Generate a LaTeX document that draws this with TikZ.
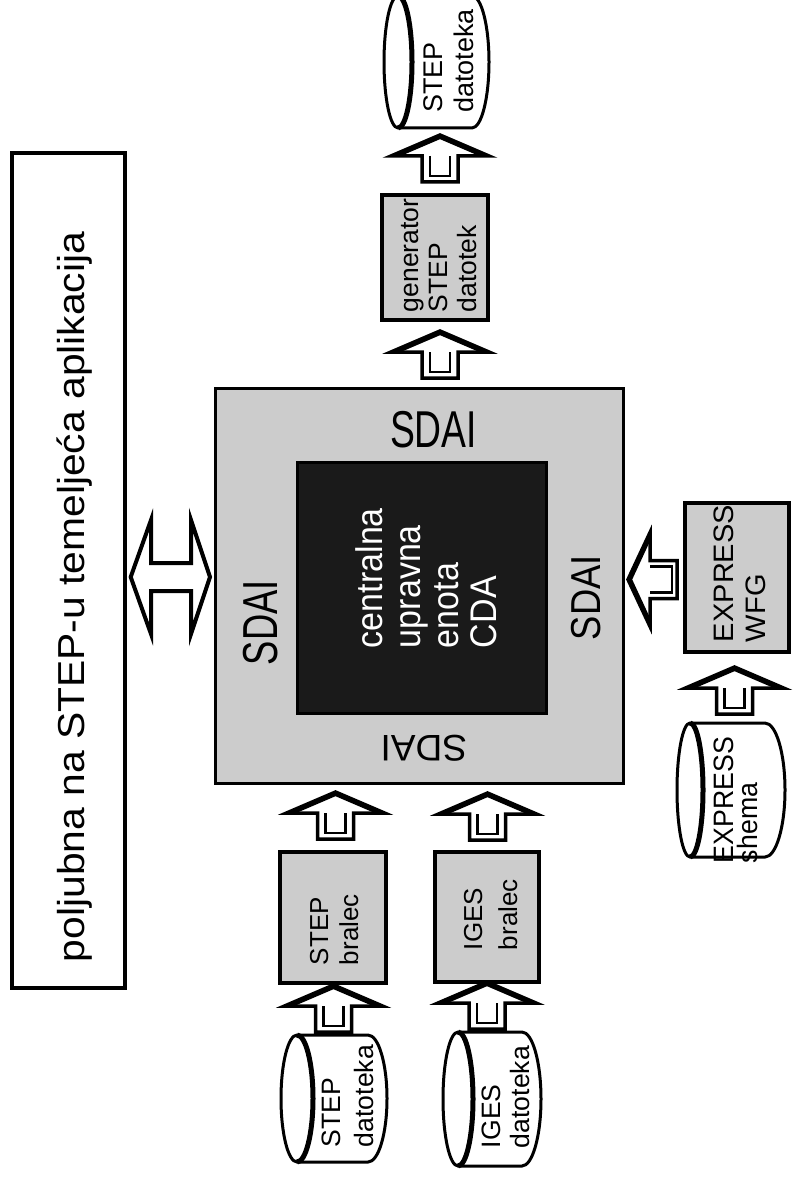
\documentclass[tikz,border=0pt]{standalone}
\usepackage{fontspec}
\setmainfont{Liberation Sans}
\usepackage{graphicx}
\definecolor{boxgray}{RGB}{204,204,204}
\definecolor{coreblack}{RGB}{26,26,26}
% #1 font size, #2 vertical stretch, #3 baselineskip (before stretch), #4 lines
\newcommand{\lbl}[4]{\fontsize{#1pt}{#1pt}\selectfont\scalebox{1}[#2]{\vtop{\baselineskip=#3pt\lineskiplimit=-200pt\lineskip=0pt #4}}}
\newcommand{\dbcyl}[6]{%
  \filldraw[cylline] (#1,#5-#6) -- (#3,#5-#6) arc[start angle=-90,end angle=90,x radius=#4,y radius=#6]
     -- (#1,#5+#6) arc[start angle=90,end angle=270,x radius=#2,y radius=#6] -- cycle;
  \draw[cylfront] (#1,#5-#6) arc[start angle=-90,end angle=90,x radius=#2,y radius=#6];}
\newcommand{\blkup}[2]{%
  \begin{scope}[shift={(#1,#2)}]
    \filldraw[blkarrow] (0,0) -- (49,21) -- (18,21) -- (18,47) -- (-18,47) -- (-18,21) -- (-49,21) -- cycle;
    \draw[blkhead] (-42,20) -- (0,2) -- (42,20);
    \draw[blkinner] (-10,21) -- (-10,41) -- (10,41) -- (10,21);
  \end{scope}}
\tikzset{
  box/.style={draw, line width=3.5pt, inner sep=0pt, outer sep=0pt},
  txt/.style={inner sep=0pt, outer sep=0pt},
  cylline/.style={draw, fill=white, line width=3pt},
  cylfront/.style={line width=5pt},
  blkarrow/.style={draw, fill=white, line width=3.5pt, line join=miter},
  blkhead/.style={line width=4pt, line join=miter},
  blkinner/.style={line width=2.2pt},
}
\begin{document}
\begin{tikzpicture}[x=1pt,y=-1pt]
\useasboundingbox (0,0) rectangle (792,1177);
\fill[white] (0,0) rectangle (792,1177);

% boxes
\node[box, minimum width=113pt, minimum height=835pt] (app) at (68.5,570.5) {};
\node[box, fill=boxgray, line width=3pt, minimum width=408pt, minimum height=395pt] (sdai) at (419,585.5) {};
\node[box, fill=coreblack, line width=3pt, minimum width=249pt, minimum height=251pt] (cda) at (421.5,587.5) {};
\node[box, fill=boxgray, minimum width=106pt, minimum height=125pt] (gen) at (435,257.5) {};
\node[box, fill=boxgray, minimum width=106pt, minimum height=131pt] (stepb) at (333,917.5) {};
\node[box, fill=boxgray, minimum width=104pt, minimum height=130pt] (igesb) at (487,917) {};
\node[box, fill=boxgray, minimum width=104pt, minimum height=149pt] (wfg) at (737,577.5) {};

% cylinders
\dbcyl{398}{14}{472}{17}{62}{66}
\dbcyl{297}{16}{368}{19}{1098.5}{63.5}
\dbcyl{458}{15}{522}{19}{1099}{67}
\dbcyl{690}{13}{765}{20}{790}{67}

% block arrows
\blkup{440}{135}
\blkup{440}{331}
\blkup{335.5}{792}
\blkup{487.5}{793}
\blkup{333.5}{985}
\blkup{487}{982}
\blkup{734.5}{667}
\begin{scope}[shift={(628,579.5)}]
  \filldraw[blkarrow] (0,0) -- (22,-47) -- (22,-19) -- (49,-19) -- (49,19) -- (22,19) -- (22,47) -- cycle;
  \draw[blkhead] (21,-41) -- (2,0) -- (21,41);
  \draw[blkinner] (22,-13) -- (44,-13) -- (44,13) -- (22,13);
\end{scope}
\begin{scope}[shift={(130.7,577)}]
  \filldraw[blkarrow, line width=4pt] (0,0) -- (20.3,-57) -- (20.3,-14) -- (60.3,-14) -- (60.3,-57) -- (79.3,0)
     -- (60.3,57) -- (60.3,14) -- (20.3,14) -- (20.3,57) -- cycle;
\end{scope}

% labels
\node[txt, rotate=90, anchor=base west] (tapp) at (84,962) {\lbl{40.8}{0.92}{40}{\hbox{poljubna na STEP-u temeljeća aplikacija}}};
\node[txt, anchor=base west] (tsdait) at (390,447) {\lbl{37.3}{1.39}{40}{\hbox{SDAI}}};
\node[txt, rotate=90, anchor=base west] (tsdail) at (277,665) {\lbl{36.4}{1.35}{40}{\hbox{SDAI}}};
\node[txt, rotate=90, anchor=base west] (tsdair) at (600,640) {\lbl{36.4}{1.15}{40}{\hbox{SDAI}}};
\node[txt, rotate=180, anchor=base west] (tsdaib) at (467,735) {\lbl{37}{1}{40}{\hbox{SDAI}}};
\node[txt, rotate=90, anchor=base west, text=white] (tcda) at (382,648) {\lbl{34}{1.09}{35.1}{\hbox{centralna}\hbox{upravna}\hbox{enota}\hbox{CDA}}};
\node[txt, rotate=90, anchor=base west] (tgen) at (418,312) {\lbl{26.5}{1}{29}{\hbox{generator}\hbox{STEP}\hbox{datotek}}};
\node[txt, rotate=90, anchor=base west] (tcyltop) at (442,113) {\lbl{27}{1}{31}{\hbox{STEP}\hbox{datoteka}}};
\node[txt, rotate=90, anchor=base west] (tcylstep) at (340,1147) {\lbl{26.6}{1}{33}{\hbox{STEP}\hbox{datoteka}}};
\node[txt, rotate=90, anchor=base west] (tcyliges) at (500,1148) {\lbl{26.6}{1}{29}{\hbox{IGES}\hbox{datoteka}}};
\node[txt, rotate=90, anchor=base west] (tstepb) at (328,965) {\lbl{26}{1}{30}{\hbox{STEP}\hbox{bralec}}};
\node[txt, rotate=90, anchor=base west] (tigesb) at (482,950) {\lbl{26}{1}{35}{\hbox{IGES}\hbox{bralec}}};
\node[txt, rotate=90, anchor=base west] (twfg) at (733,642) {\lbl{29}{0.97}{33}{\hbox{EXPRESS}\hbox{WFG}}};
\node[txt, rotate=90, anchor=base west] (tshema) at (733,863) {\lbl{26.7}{1.05}{23}{\hbox{EXPRESS}\hbox{shema}}};
\end{tikzpicture}
\end{document}
